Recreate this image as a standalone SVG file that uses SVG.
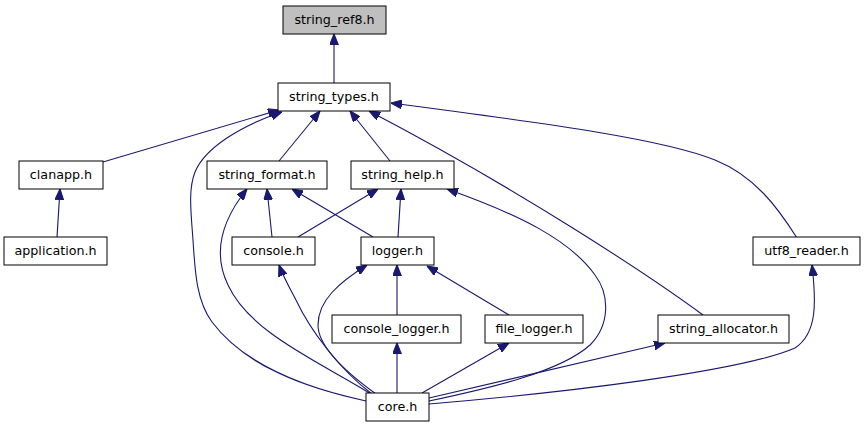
<svg xmlns="http://www.w3.org/2000/svg" width="865" height="427" viewBox="0 0 865 427">
<style>
.n rect{fill:#ffffff;stroke:#000000;stroke-width:1}
.n text{font-family:"DejaVu Sans",sans-serif;font-size:12.7px;text-anchor:middle;fill:#000000}
.e path{fill:none;stroke:#191970;stroke-width:1.1;marker-end:url(#ah)}
</style>
<defs>
<marker id="ah" viewBox="0 0 10 8" refX="10" refY="4" markerWidth="11" markerHeight="9" markerUnits="userSpaceOnUse" orient="auto">
<path d="M0,0 L10,4 L0,8 Z" fill="#191970" stroke="#191970"/>
</marker>
</defs>
<rect width="865" height="427" fill="#ffffff"/>
<g id="edges" class="e">
<path d="M334,83 L334,34"/>
<path d="M103,162 L279,110"/>
<path d="M57,237 L60,189"/>
<path d="M279,161 L320,111"/>
<path d="M390,161 L350,111"/>
<path d="M366,401 C305,388 245,366 212,322 C196,300 195,270 193,240 C191,212 188,190 195,172 C205,148 240,126 282,112"/>
<path d="M703,315 C650,276 520,190 369,111"/>
<path d="M797,238 C778,208 755,176 715,160 C665,140 560,125 391,103"/>
<path d="M272,237 L267,189"/>
<path d="M373,237 L292,189"/>
<path d="M298,237 L378,189"/>
<path d="M398,237 L401,189"/>
<path d="M429,401 C490,388 560,372 590,345 C610,325 610,295 595,275 C570,240 520,215 447,189"/>
<path d="M371,394 C320,362 250,333 228,285 C212,252 222,220 247,189"/>
<path d="M372,394 C340,370 310,330 296,300 C288,285 283,276 279,265"/>
<path d="M376,394 C340,368 318,345 318,325 C318,300 340,282 367,265"/>
<path d="M397,315 L397,265"/>
<path d="M509,315 L427,266"/>
<path d="M397,393 L397,343"/>
<path d="M422,393 L509,343"/>
<path d="M429,398 L665,343"/>
<path d="M429,404 C560,393 740,372 795,348 C818,333 816,300 812,265"/>
</g>
<g id="string_ref8" class="n"><rect x="283" y="6" width="103" height="28" style="fill:#bfbfbf"/><text x="334.5" y="24">string_ref8.h</text></g>
<g id="string_types" class="n"><rect x="278" y="83" width="112" height="28"/><text x="334" y="101">string_types.h</text></g>
<g id="clanapp" class="n"><rect x="19" y="161" width="84" height="28"/><text x="61" y="179">clanapp.h</text></g>
<g id="string_format" class="n"><rect x="207" y="161" width="120" height="28"/><text x="267" y="179">string_format.h</text></g>
<g id="string_help" class="n"><rect x="351" y="161" width="103" height="28"/><text x="402.5" y="179">string_help.h</text></g>
<g id="application" class="n"><rect x="4" y="237" width="103" height="28"/><text x="55.5" y="255">application.h</text></g>
<g id="console" class="n"><rect x="232" y="237" width="83" height="28"/><text x="273.5" y="255">console.h</text></g>
<g id="logger" class="n"><rect x="361" y="237" width="73" height="28"/><text x="397.5" y="255">logger.h</text></g>
<g id="utf8_reader" class="n"><rect x="753" y="237" width="107" height="28"/><text x="806.5" y="255">utf8_reader.h</text></g>
<g id="console_logger" class="n"><rect x="332" y="315" width="129" height="28"/><text x="396.5" y="333">console_logger.h</text></g>
<g id="file_logger" class="n"><rect x="485" y="315" width="98" height="28"/><text x="534" y="333">file_logger.h</text></g>
<g id="string_allocator" class="n"><rect x="658" y="315" width="131" height="28"/><text x="723.5" y="333">string_allocator.h</text></g>
<g id="core" class="n"><rect x="366" y="393" width="63" height="28"/><text x="397.5" y="411">core.h</text></g>
</svg>
